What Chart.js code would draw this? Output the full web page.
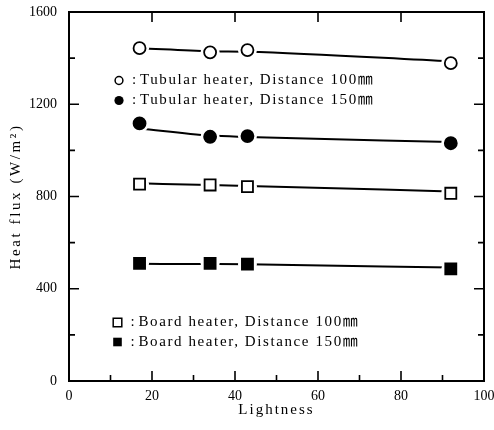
<!DOCTYPE html>
<html>
<head>
<meta charset="utf-8">
<script src="https://cdn.jsdelivr.net/npm/chart.js@4.4.1/dist/chart.umd.min.js"></script>
<style>
  html, body { margin: 0; padding: 0; background: #fff; }
  #wrap { width: 494px; height: 430px; }
</style>
</head>
<body>
<div id="wrap"><canvas id="c" width="494" height="430"></canvas></div>
<script>
// ---- data ----
const lightness = [17, 34, 43, 92];
const tubular100 = [1443, 1425, 1435, 1378];
const tubular150 = [1117, 1059, 1062, 1031];
const board100 = [854, 850, 843, 814];
const board150 = [510, 510, 507, 486];
// fitted curves (as drawn in the reference)
const tubular100Fit = [1443, 1430, 1428, 1386];
const tubular150Fit = [1095, 1064, 1058, 1036];
const board100Fit = [857, 850, 846, 822];
const board150Fit = [508, 507, 506, 492];

const xMajorTicks = [0, 20, 40, 60, 80, 100];
const xMinorTicks = [10, 30, 50, 70, 90];
const yMajorTicks = [0, 400, 800, 1200, 1600];
const yMinorTicks = [200, 600, 1000, 1400];

const xTitle = 'Lightness';
const yTitle = 'Heat flux (W/m²)';
const legendTop = [
  { label: 'Tubular heater, Distance 100㎜', style: 'circle', filled: false },
  { label: 'Tubular heater, Distance 150㎜', style: 'circle', filled: true }
];
const legendBottom = [
  { label: 'Board heater, Distance 100㎜', style: 'rect', filled: false },
  { label: 'Board heater, Distance 150㎜', style: 'rect', filled: true }
];

const FONT = "'Liberation Serif', 'Noto Sans CJK JP', serif";

const pts = arr => lightness.map((x, i) => ({ x, y: arr[i] }));

function lineDs(arr) {
  return { data: pts(arr), showLine: true, borderColor: '#000', borderWidth: 2,
    pointRadius: 0, cubicInterpolationMode: 'monotone', fill: false, order: 3 };
}
function haloDs(arr) {
  return { data: pts(arr), showLine: false, pointRadius: 9.5, pointBackgroundColor: '#fff',
    pointBorderWidth: 0, pointBorderColor: '#fff', order: 2 };
}
function markDs(arr, style, filled) {
  return { data: pts(arr), showLine: false, pointStyle: style,
    pointRadius: style === 'rect' ? 7.8 : 6,
    pointBackgroundColor: filled ? '#000' : '#fff', pointBorderColor: '#000',
    pointBorderWidth: 1.8, order: 1 };
}

const decorations = {
  id: 'decorations',
  afterDatasetsDraw(chart) {
    const { ctx, chartArea: a, scales: { x, y } } = chart;
    ctx.save();
    ctx.strokeStyle = '#000';
    ctx.lineWidth = 2;
    ctx.strokeRect(a.left, a.top, a.right - a.left, a.bottom - a.top);
    ctx.lineWidth = 1.6;
    ctx.beginPath();
    const major = 10, minor = 6;
    xMajorTicks.forEach(v => { const p = x.getPixelForValue(v);
      ctx.moveTo(p, a.bottom); ctx.lineTo(p, a.bottom - major);
      ctx.moveTo(p, a.top); ctx.lineTo(p, a.top + major); });
    xMinorTicks.forEach(v => { const p = x.getPixelForValue(v);
      ctx.moveTo(p, a.bottom); ctx.lineTo(p, a.bottom - minor); });
    yMajorTicks.forEach(v => { const p = y.getPixelForValue(v);
      ctx.moveTo(a.left, p); ctx.lineTo(a.left + major, p);
      ctx.moveTo(a.right, p); ctx.lineTo(a.right - major, p); });
    yMinorTicks.forEach(v => { const p = y.getPixelForValue(v);
      ctx.moveTo(a.left, p); ctx.lineTo(a.left + minor, p);
      ctx.moveTo(a.right, p); ctx.lineTo(a.right - minor, p); });
    ctx.stroke();

    ctx.fillStyle = '#000';
    // axis titles
    ctx.font = '15px ' + FONT;
    ctx.textAlign = 'center';
    ctx.textBaseline = 'middle';
    ctx.letterSpacing = '2px';
    ctx.fillText(xTitle, (a.left + a.right) / 2, 410);
    ctx.save();
    ctx.translate(16, (a.top + a.bottom) / 2);
    ctx.rotate(-Math.PI / 2);
    ctx.letterSpacing = '2.6px';
    ctx.fillText(yTitle, 0, 0);
    ctx.restore();

    // in-plot legends
    ctx.font = '15px ' + FONT;
    ctx.textAlign = 'left';
    ctx.letterSpacing = '1.6px';
    function drawItem(item, mx, my) {
      ctx.beginPath();
      ctx.lineWidth = 1.5;
      if (item.style === 'circle') {
        ctx.arc(mx, my, item.filled ? 4.6 : 3.9, 0, Math.PI * 2);
      } else {
        ctx.rect(mx - 4.3, my - 4.3, 8.6, 8.6);
      }
      if (item.filled) { ctx.fill(); } else { ctx.stroke(); }
      ctx.fillText(':', mx + 13, my);
      ctx.fillText(item.label, mx + 21, my);
    }
    drawItem(legendTop[0], 119, 80.5);
    drawItem(legendTop[1], 119, 100.5);
    drawItem(legendBottom[0], 117.5, 322.5);
    drawItem(legendBottom[1], 117.5, 342);
    ctx.restore();
  }
};

new Chart(document.getElementById('c'), {
  type: 'scatter',
  data: {
    datasets: [
      lineDs(tubular100Fit), lineDs(tubular150Fit), lineDs(board100Fit), lineDs(board150Fit),
      haloDs(tubular100), haloDs(tubular150), haloDs(board100), haloDs(board150),
      markDs(tubular100, 'circle', false), markDs(tubular150, 'circle', true),
      markDs(board100, 'rect', false), markDs(board150, 'rect', true)
    ]
  },
  options: {
    responsive: false,
    animation: false,
    events: [],
    layout: { padding: { top: 12, right: 10, left: 0, bottom: 0 } },
    plugins: { legend: { display: false }, tooltip: { enabled: false } },
    scales: {
      x: {
        type: 'linear', min: 0, max: 100,
        grid: { display: false, drawTicks: false }, border: { display: false },
        ticks: { stepSize: 20, color: '#000', padding: 7, font: { family: FONT, size: 14 },
          callback: v => String(v) },
        afterFit(s) { s.height = 49; s.paddingLeft = 0; s.paddingRight = 0; }
      },
      y: {
        type: 'linear', min: 0, max: 1600,
        grid: { display: false, drawTicks: false }, border: { display: false },
        ticks: { stepSize: 400, color: '#000', padding: 12, font: { family: FONT, size: 14 },
          callback: v => String(v) },
        afterFit(s) { s.width = 69; s.paddingTop = 0; s.paddingBottom = 0; }
      }
    }
  },
  plugins: [decorations]
});
</script>
</body>
</html>
